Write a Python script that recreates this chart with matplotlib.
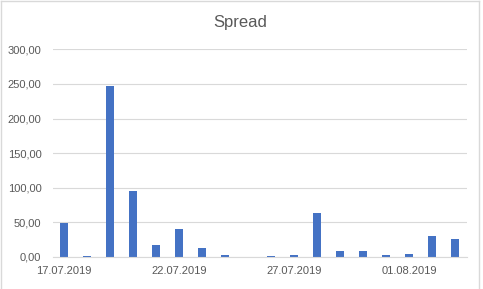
import matplotlib
matplotlib.use("Agg")
import matplotlib.pyplot as plt
from matplotlib.lines import Line2D
from matplotlib.ticker import FuncFormatter

dates = [
    "17.07.2019", "18.07.2019", "19.07.2019", "20.07.2019", "21.07.2019", "22.07.2019",
    "23.07.2019", "24.07.2019", "25.07.2019", "26.07.2019", "27.07.2019", "28.07.2019",
    "29.07.2019", "30.07.2019", "31.07.2019", "01.08.2019", "02.08.2019", "03.08.2019",
]
spread = [49.6, 1.4, 247.5, 95.8, 17.8, 40.9, 13.5, 3.4, 0.0,
          1.4, 2.9, 64.0, 9.1, 9.1, 3.4, 4.8, 30.8, 26.4]
label_every = 5

plt.rcParams["font.family"] = ["Liberation Sans", "DejaVu Sans"]
text_color = "#595959"
grid_color = "#d9d9d9"

fig = plt.figure(figsize=(4.83, 2.89), dpi=100)
ax = fig.add_axes([52.5 / 483, 32 / 289, 414 / 483, 207.7 / 289])

x = list(range(len(dates)))
ax.bar(x, spread, width=0.39, color="#4472c4", zorder=2)

ax.set_xlim(-0.5, len(dates) - 0.5)
ax.set_ylim(0, 300)
ax.set_yticks(range(0, 301, 50))
ax.yaxis.set_major_formatter(FuncFormatter(lambda v, _: f"{v:.2f}".replace(".", ",")))
ax.set_xticks(x[::label_every])
ax.set_xticklabels(dates[::label_every])

ax.grid(axis="y", color=grid_color, linewidth=0.8, zorder=0)
for side in ["top", "right", "left"]:
    ax.spines[side].set_visible(False)
ax.spines["bottom"].set_color(grid_color)
ax.spines["bottom"].set_linewidth(0.8)
ax.tick_params(length=0, labelsize=8, labelcolor=text_color)
ax.tick_params(axis="y", pad=8)
ax.tick_params(axis="x", pad=6.5)

fig.suptitle("Spread", x=240 / 483, y=1 - 23 / 289, va="center",
             fontsize=12, color=text_color)

# light chart border (top, left, right)
bx0, bx1, by1 = 0.5 / 483, 479 / 483, 1 - 0.5 / 289
for xs, ys in [([bx0, bx1], [by1, by1]), ([bx0, bx0], [0, by1]), ([bx1, bx1], [0, by1])]:
    fig.add_artist(Line2D(xs, ys, transform=fig.transFigure, color=grid_color, linewidth=1))

fig.savefig("out.png", dpi=100)
plt.close(fig)
